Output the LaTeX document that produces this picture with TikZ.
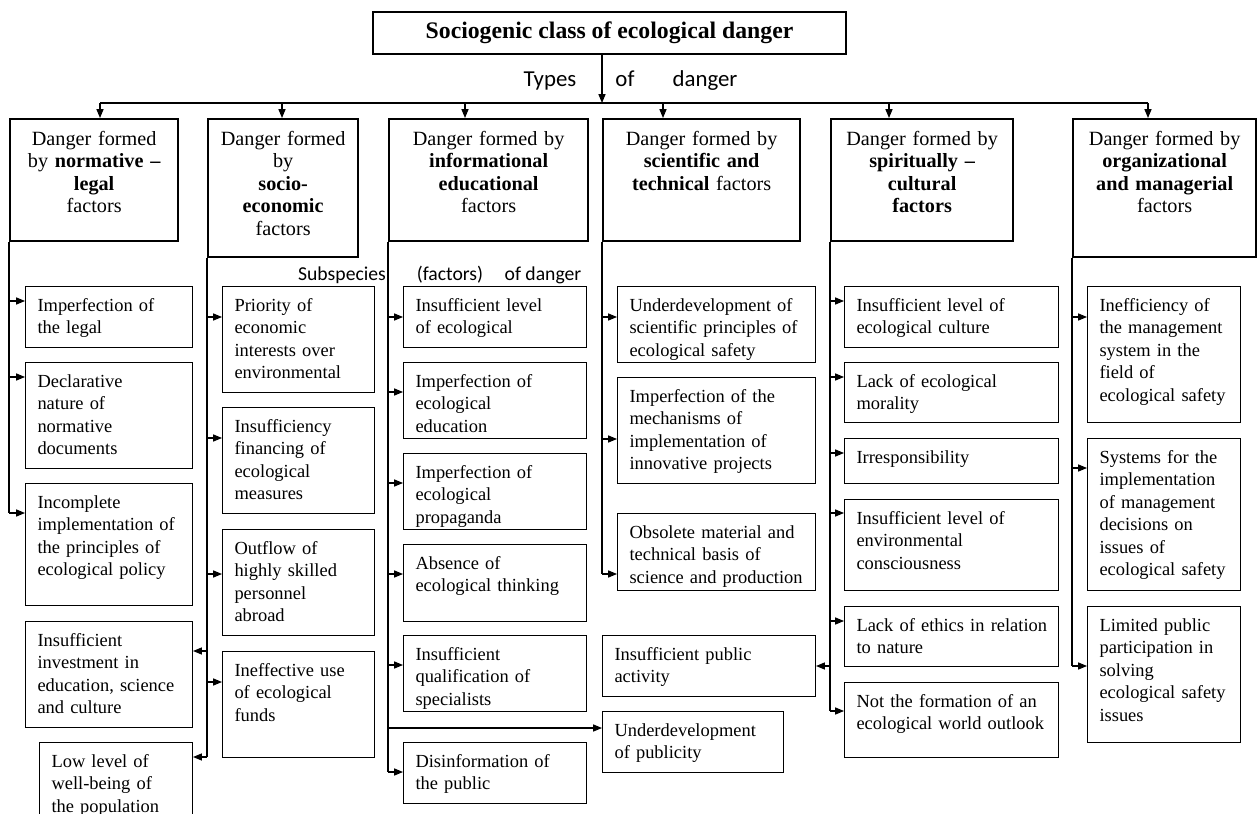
\documentclass[tikz,border=0pt]{standalone}
\usepackage{fontspec}
\setmainfont{Liberation Serif}
\newfontfamily\lblfont{Carlito}
\usetikzlibrary{arrows.meta}
\tikzset{
  title/.style={draw,line width=1.3pt,minimum width=9.46cm,minimum height=0.84cm,inner sep=0pt,
    font=\bfseries\fontsize{13.5}{16}\selectfont},
  hdr/.style={draw,line width=1.3pt,anchor=north west,align=center,inner xsep=0.08cm,inner ysep=0pt,
    text height=15pt,font=\fontsize{11.5}{12.8}\selectfont},
  item/.style={draw,line width=0.6pt,anchor=north west,align=left,inner xsep=0.06cm,inner ysep=0pt,
    text height=14pt,font=\fontsize{10.5}{12.8}\selectfont,
    execute at begin node={\leftskip=0.18cm\hyphenpenalty=10000\exhyphenpenalty=10000}},
  hwh/.style 2 args={text width={(#1-8)*0.02cm},text depth={(#2)*0.02cm-15pt}},
  wh/.style 2 args={text width={(#1-6)*0.02cm},text depth={(#2)*0.02cm-14pt}},
  lbl/.style={anchor=base,inner sep=0pt,font=\lblfont\fontsize{13}{15}\selectfont},
  sublbl/.style={anchor=base,inner sep=0pt,font=\lblfont\fontsize{11.2}{13}\selectfont},
  link/.style={line width=0.6pt},
  arr/.style={link,-{Triangle[length=5pt,width=4pt]}}
}
\begin{document}
\begin{tikzpicture}[x=0.02cm,y=-0.02cm]
\useasboundingbox (0,0) rectangle (1258,814);

% class and types
\node[title] (title) at (609.5,33) {Sociogenic class of ecological danger};
\coordinate (bus) at (602,103);
\node[lbl] (tp1) at (550,87) {Types};
\node[lbl] (tp2) at (625,87) {of};
\node[lbl] (tp3) at (705,87) {danger};

\node[hdr,hwh={168}{122}] (h1) at (9,118) {Danger formed\\by \textbf{normative --}\\\textbf{legal}\\factors};
\node[hdr,hwh={150}{138}] (h2) at (207,118) {Danger formed\\by\\\textbf{socio-}\\\textbf{economic}\\factors};
\node[hdr,hwh={199}{122}] (h3) at (388,118) {Danger formed by\\\textbf{informational}\\\textbf{educational}\\factors};
\node[hdr,hwh={197}{122}] (h4) at (602,118) {Danger formed by\\\textbf{scientific and}\\\textbf{technical} factors};
\node[hdr,hwh={182}{122}] (h5) at (830,118) {Danger formed by\\\textbf{spiritually --}\\\textbf{cultural}\\\textbf{factors}};
\node[hdr,hwh={183}{138}] (h6) at (1072,118) {Danger formed by\\\textbf{organizational}\\\textbf{and managerial}\\factors};

\draw[arr] (title.south -| bus) -- (bus);
\draw[link] (bus -| 100,0) -- (bus -| 1148,0);
\foreach \n/\x in {h1/100,h2/282,h3/465,h4/663,h5/889,h6/1148}
  \draw[arr] (bus -| \x,0) -- (\n.north -| \x,0);

\node[sublbl] (sb1) at (342,281) {Subspecies};
\node[sublbl] (sb2) at (450,281) {(factors)};
\node[sublbl] (sb3) at (543,281) {of danger};

% normative - legal
\node[item,wh={167}{61}] (c1a) at (25,286) {Imperfection of\\the legal};
\node[item,wh={167}{106}] (c1b) at (25,362) {Declarative\\nature of\\normative\\documents};
\node[item,wh={167}{122}] (c1c) at (25,483) {Incomplete\\implementation of\\the principles of\\ecological policy};
\node[item,wh={167}{106}] (c1d) at (25,621) {Insufficient\\investment in\\education, science\\and culture};
\node[item,wh={153}{100}] (c1e) at (39,742) {Low level of\\well-being of\\the population};

% socio-economic
\node[item,wh={152}{106}] (c2a) at (222,286) {Priority of\\economic\\interests over\\environmental};
\node[item,wh={152}{106}] (c2b) at (222,407) {Insufficiency\\financing of\\ecological\\measures};
\node[item,wh={152}{106}] (c2c) at (222,529) {Outflow of\\highly skilled\\personnel\\abroad};
\node[item,wh={152}{106}] (c2d) at (222,651) {Ineffective use\\of ecological\\funds};

% informational educational
\node[item,wh={183}{61}] (c3a) at (403,286) {Insufficient level\\of ecological};
\node[item,wh={183}{76}] (c3b) at (403,362) {Imperfection of\\ecological\\education};
\node[item,wh={183}{76}] (c3c) at (403,453) {Imperfection of\\ecological\\propaganda};
\node[item,wh={183}{77}] (c3d) at (403,544) {Absence of\\ecological thinking};
\node[item,wh={183}{76}] (c3e) at (403,635) {Insufficient\\qualification of\\specialists};
\node[item,wh={183}{61}] (c3f) at (403,742) {Disinformation of\\the public};

% scientific and technical
\node[item,wh={198}{76}] (c4a) at (617,286) {Underdevelopment of\\scientific principles of\\ecological safety};
\node[item,wh={198}{106}] (c4b) at (617,377) {Imperfection of the\\mechanisms of\\implementation of\\innovative projects};
\node[item,wh={198}{77}] (c4c) at (617,513) {Obsolete material and\\technical basis of\\science and production};
\node[item,wh={213}{61}] (c4d) at (602,635) {Insufficient public\\activity};
\node[item,wh={181}{61}] (c4e) at (602,711) {Underdevelopment\\of publicity};

% spiritually - cultural
\node[item,wh={214}{61}] (c5a) at (844,286) {Insufficient level of\\ecological culture};
\node[item,wh={214}{60}] (c5b) at (844,362) {Lack of ecological\\morality};
\node[item,wh={214}{45}] (c5c) at (844,438) {Irresponsibility};
\node[item,wh={214}{91}] (c5d) at (844,499) {Insufficient level of\\environmental\\consciousness};
\node[item,wh={214}{60}] (c5e) at (844,606) {Lack of ethics in relation\\to nature};
\node[item,wh={214}{75}] (c5f) at (844,682) {Not the formation of an\\ecological world outlook};

% organizational and managerial
\node[item,wh={153}{136}] (c6a) at (1087,286) {Inefficiency of\\the management\\system in the\\field of\\ecological safety};
\node[item,wh={153}{152}] (c6b) at (1087,438) {Systems for the\\implementation\\of management\\decisions on\\issues of\\ecological safety};
\node[item,wh={153}{136}] (c6c) at (1087,606) {Limited public\\participation in\\solving\\ecological safety\\issues};

% trunks
\draw[link] (h1.south west) -- (h1.south west |- 0,513);
\draw[link] (h2.south west) -- (h2.south west |- 0,757);
\draw[link] (h3.south west) -- (h3.south west |- 0,772);
\draw[link] (h4.south west) -- (h4.south west |- 0,574);
\draw[link] (h5.south west) -- (h5.south west |- 0,711);
\draw[link] (h6.south west) -- (h6.south west |- 0,666);

\foreach \n/\y in {c1a/301,c1b/377,c1c/513}
  \draw[arr] (h1.south west |- 0,\y) -- (\n.west |- 0,\y);
\foreach \n/\y in {c2a/317,c2b/438,c2c/574,c2d/682}
  \draw[arr] (h2.south west |- 0,\y) -- (\n.west |- 0,\y);
\foreach \n/\y in {c1d/651,c1e/757}
  \draw[arr] (h2.south west |- 0,\y) -- (\n.east |- 0,\y);
\foreach \n/\y in {c3a/317,c3b/392,c3c/483,c3d/574,c3e/665,c4e/728,c3f/772}
  \draw[arr] (h3.south west |- 0,\y) -- (\n.west |- 0,\y);
\foreach \n/\y in {c4a/317,c4b/439,c4c/574}
  \draw[arr] (h4.south west |- 0,\y) -- (\n.west |- 0,\y);
\foreach \n/\y in {c5a/301,c5b/377,c5c/453,c5d/513,c5e/621,c5f/711}
  \draw[arr] (h5.south west |- 0,\y) -- (\n.west |- 0,\y);
\draw[arr] (h5.south west |- 0,666) -- (c4d.east |- 0,666);
\foreach \n/\y in {c6a/317,c6b/468,c6c/666}
  \draw[arr] (h6.south west |- 0,\y) -- (\n.west |- 0,\y);
\end{tikzpicture}
\end{document}
